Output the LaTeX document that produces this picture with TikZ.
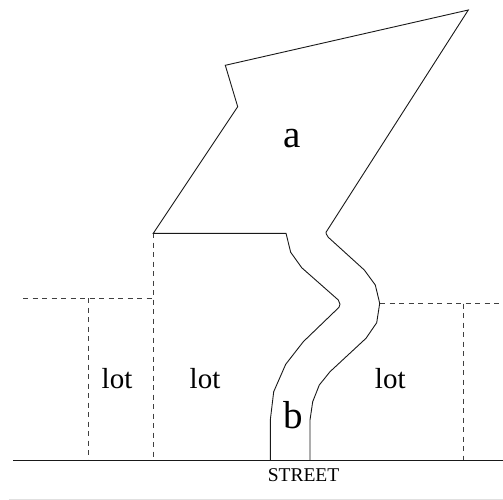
\documentclass[tikz,border=0pt]{standalone}
\usepackage{fontspec}
\setmainfont{Liberation Serif}
\tikzset{
  solidline/.style={line width=0.9pt,line join=miter,black!90},
  lotline/.style={line width=0.9pt,black!75,dash pattern=on 5pt off 4.5pt},
  lotlabel/.style={font=\fontsize{29}{29}\selectfont,inner sep=0pt,anchor=base},
  biglabel/.style={font=\fontsize{39}{39}\selectfont,inner sep=0pt,anchor=base},
  streetlabel/.style={font=\fontsize{19.5}{20}\selectfont,inner sep=0pt,anchor=base}
}
\begin{document}
\begin{tikzpicture}[x=1pt,y=-1pt]
\useasboundingbox (0,0) rectangle (503,500);
\fill[white] (0,0) rectangle (503,500);
\fill[black!12] (9,498.7) rectangle (503,500);
% lot lines
\draw[lotline] (153.3,233) -- (153.3,460);
\draw[lotline] (23,298) -- (153.3,298);
\draw[lotline] (88.3,298) -- (88.3,460);
\draw[lotline] (380,303.5) -- (503,303.5);
\draw[lotline] (463,303.5) -- (463,460);
% flag lot outline
\draw[solidline] (270.3,460) -- (270.3,420) -- (273.7,391.7) -- (285.7,364.3) -- (303.3,341.7)
  -- (339,307.3) -- (340,304.3) -- (338.3,300) -- (301.7,267.7) -- (290.7,252.3) -- (286,233.3)
  -- (153.3,233.3) -- (237.7,106.7) -- (225.3,65.3) -- (468.3,10) -- (326,232.3) -- (326.3,234)
  -- (328.3,237.3) -- (364.3,270) -- (375.3,285) -- (379.7,303.3) -- (376.7,322.7) -- (366,338.3)
  -- (330,371.7) -- (319.3,385) -- (312.7,401.7) -- (310,420) -- (310,460);
% street
\draw[solidline] (13,460) -- (503,460);
\node[lotlabel] (lotA) at (117,388) {lot};
\node[lotlabel] (lotB) at (205,388) {lot};
\node[lotlabel] (lotC) at (390.3,388) {lot};
\node[biglabel] (a) at (292.5,147) {a};
\node[biglabel] (b) at (293,428) {b};
\node[streetlabel] (street) at (303.5,481.5) {STREET};
\end{tikzpicture}
\end{document}
